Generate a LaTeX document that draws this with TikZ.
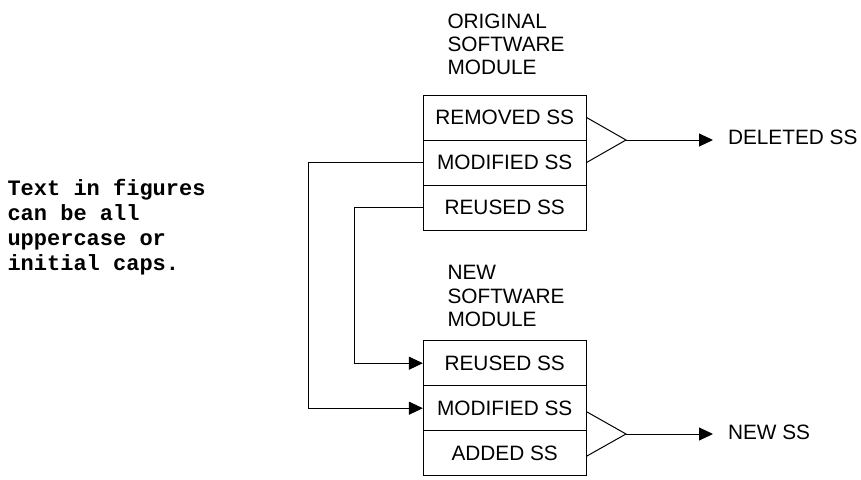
\documentclass[tikz,border=0pt]{standalone}
\usepackage{fontspec}
\setmainfont{Liberation Sans}
\setmonofont{Liberation Mono}
\usetikzlibrary{arrows.meta}
\begin{document}
\begin{tikzpicture}[x=1pt,y=-1pt,
  line width=1pt,
  cell/.style={draw, minimum width=162.7pt, minimum height=45pt, inner sep=0pt,
    font=\fontsize{20.8}{23.3}\selectfont},
  % multi-line labels are placed by the baseline of their last line
  caption/.style={anchor=base west, inner sep=0pt, align=left,
    font=\fontsize{20.8}{23.3}\selectfont},
  outlabel/.style={anchor=west, inner sep=0pt, font=\fontsize{20.8}{23.3}\selectfont},
  arr/.style={-{Triangle[length=14pt,width=13pt]}},
  note/.style={anchor=base west, inner sep=0pt, align=left,
    font=\fontsize{22}{25}\selectfont\ttfamily\bfseries}]
\useasboundingbox (0,0) rectangle (861,479);

% side note
\node[note] (nt) at (7,270) {Text in figures\\can be all\\uppercase or\\initial caps.};

% original module
\node[caption] (orig) at (447,74.8) {ORIGINAL\\SOFTWARE\\MODULE};
\node[cell] (rem)  at (504.7,117.5) {REMOVED SS};
\node[cell] (mod1) at (504.7,162.5) {MODIFIED SS};
\node[cell] (reu1) at (504.7,207.5) {REUSED SS};

% new module
\node[caption] (new) at (447,326.5) {NEW\\SOFTWARE\\MODULE};
\node[cell] (reu2) at (504.7,363.2) {REUSED SS};
\node[cell] (mod2) at (504.7,408.2) {MODIFIED SS};
\node[cell] (add)  at (504.7,453.2) {ADDED SS};

% outputs
\node[outlabel] (del) at (727.5,137) {DELETED SS};
\node[outlabel] (nss) at (727.5,432) {NEW SS};

% merge of removed and modified parts
\coordinate (j1) at (626,140);
\draw (rem.east) -- (j1) -- (mod1.east);
\draw[arr, shorten >=14.5pt] (j1) -- (j1 -| del.west);

% merge of modified and added parts
\coordinate (j2) at (626,434);
\draw ([yshift=-3.5pt]mod2.east) -- (j2) -- ([yshift=-3pt]add.east);
\draw[arr, shorten >=14.5pt] (j2) -- (j2 -| nss.west);

% carried-over parts
\draw[arr] (mod1.west) -- ++(-114.3,0) |- (mod2.west);
\draw[arr] (reu1.west) -- ++(-68.3,0) |- (reu2.west);
\end{tikzpicture}
\end{document}
